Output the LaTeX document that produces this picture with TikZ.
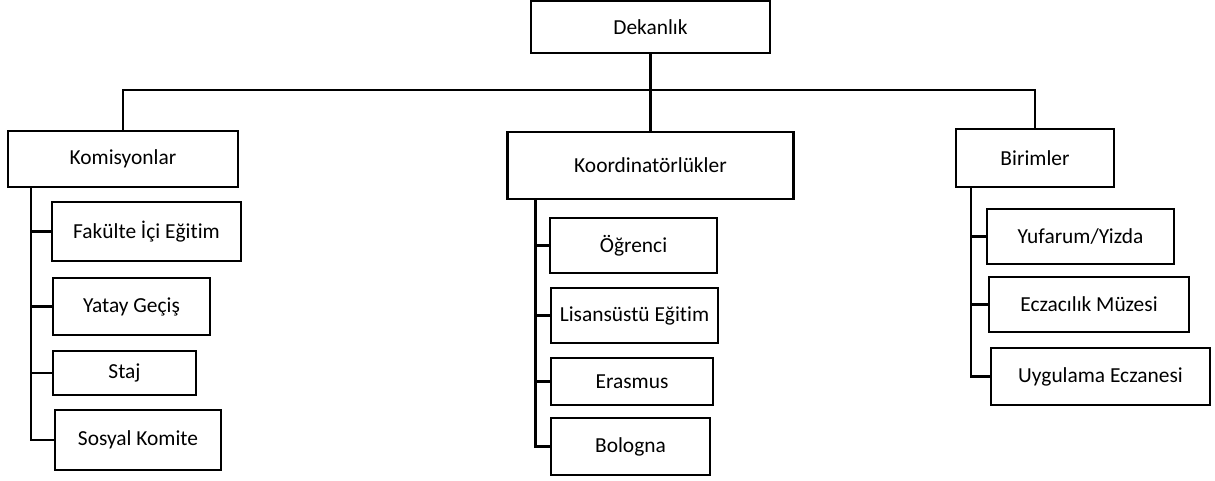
\documentclass[tikz,border=0pt]{standalone}
\usepackage{fontspec}
\setmainfont{Carlito}[Ligatures=NoCommon]
\usetikzlibrary{calc}

\begin{document}
\begin{tikzpicture}[x=0.5pt, y=-0.5pt,
    font=\fontsize{10.7pt}{12pt}\selectfont,
    orgbox/.style={draw, line width=1.2pt, inner sep=0pt, align=center},
    link/.style={line width=1.2pt}]

      \useasboundingbox (0, 0) rectangle (1215, 481);

      % top level
      \node [orgbox, minimum width=119.5pt, minimum height=26pt]
        (dekanlik) at (650.5, 27) {Dekanlık};

      \node [orgbox, minimum width=115pt, minimum height=28pt]
        (komisyonlar) at (123, 159) {Komisyonlar};
      \node [orgbox, minimum width=143pt, minimum height=33.5pt]
        (koordinatorlukler) at (650.5, 165.5) {Koordinatörlükler};
      \node [orgbox, minimum width=79pt, minimum height=29pt]
        (birimler) at (1035, 158) {Birimler};

      \coordinate (bus) at (0, 90);
      \draw [link] (dekanlik.south) -- (koordinatorlukler.north);
      \draw [link] (komisyonlar.north) -- (komisyonlar.north |- bus)
        -- (birimler.north |- bus) -- (birimler.north);

      % komisyonlar
      \node [orgbox, minimum width=94.5pt, minimum height=29.5pt]
        (fakulte) at (146.5, 231.5) {Fakülte İçi Eğitim};
      \node [orgbox, minimum width=78.5pt, minimum height=28.5pt]
        (yatay) at (131.5, 306.5) {Yatay Geçiş};
      \node [orgbox, minimum width=71.5pt, minimum height=22pt]
        (staj) at (124.5, 373) {Staj};
      \node [orgbox, minimum width=83pt, minimum height=30pt]
        (sosyal) at (138, 440) {Sosyal Komite};

      \coordinate (komspine) at ([xshift=12pt]komisyonlar.south west);
      \draw [link] (komspine) |- (sosyal.west);
      \foreach \sub in {fakulte, yatay, staj}
        \draw [link] (komspine |- \sub.west) -- (\sub.west);

      % koordinatorlukler
      \node [orgbox, minimum width=83.5pt, minimum height=27.5pt]
        (ogrenci) at (633.5, 245.5) {Öğrenci};
      \node [orgbox, minimum width=83.5pt, minimum height=27.5pt]
        (lisansustu) at (634.5, 315.5) {Lisansüstü Eğitim};
      \node [orgbox, minimum width=81pt, minimum height=23.5pt]
        (erasmus) at (632, 381.5) {Erasmus};
      \node [orgbox, minimum width=79.5pt, minimum height=28.5pt]
        (bologna) at (630.5, 446.5) {Bologna};

      \coordinate (koorspine) at ([xshift=14.5pt]koordinatorlukler.south west);
      \draw [link] (koorspine) |- (bologna.west);
      \foreach \sub in {ogrenci, lisansustu, erasmus}
        \draw [link] (koorspine |- \sub.west) -- (\sub.west);

      % birimler
      \node [orgbox, minimum width=93.5pt, minimum height=27.5pt]
        (yufarum) at (1080.5, 236.5) {Yufarum/Yizda};
      \node [orgbox, minimum width=100pt, minimum height=27.5pt]
        (muze) at (1089, 304.5) {Eczacılık Müzesi};
      \node [orgbox, minimum width=109.5pt, minimum height=28.5pt]
        (eczane) at (1100.5, 376.5) {Uygulama Eczanesi};

      \coordinate (birspine) at ([xshift=8pt]birimler.south west);
      \draw [link] (birspine) |- (eczane.west);
      \foreach \sub in {yufarum, muze}
        \draw [link] (birspine |- \sub.west) -- (\sub.west);

    \end{tikzpicture}
\end{document}
